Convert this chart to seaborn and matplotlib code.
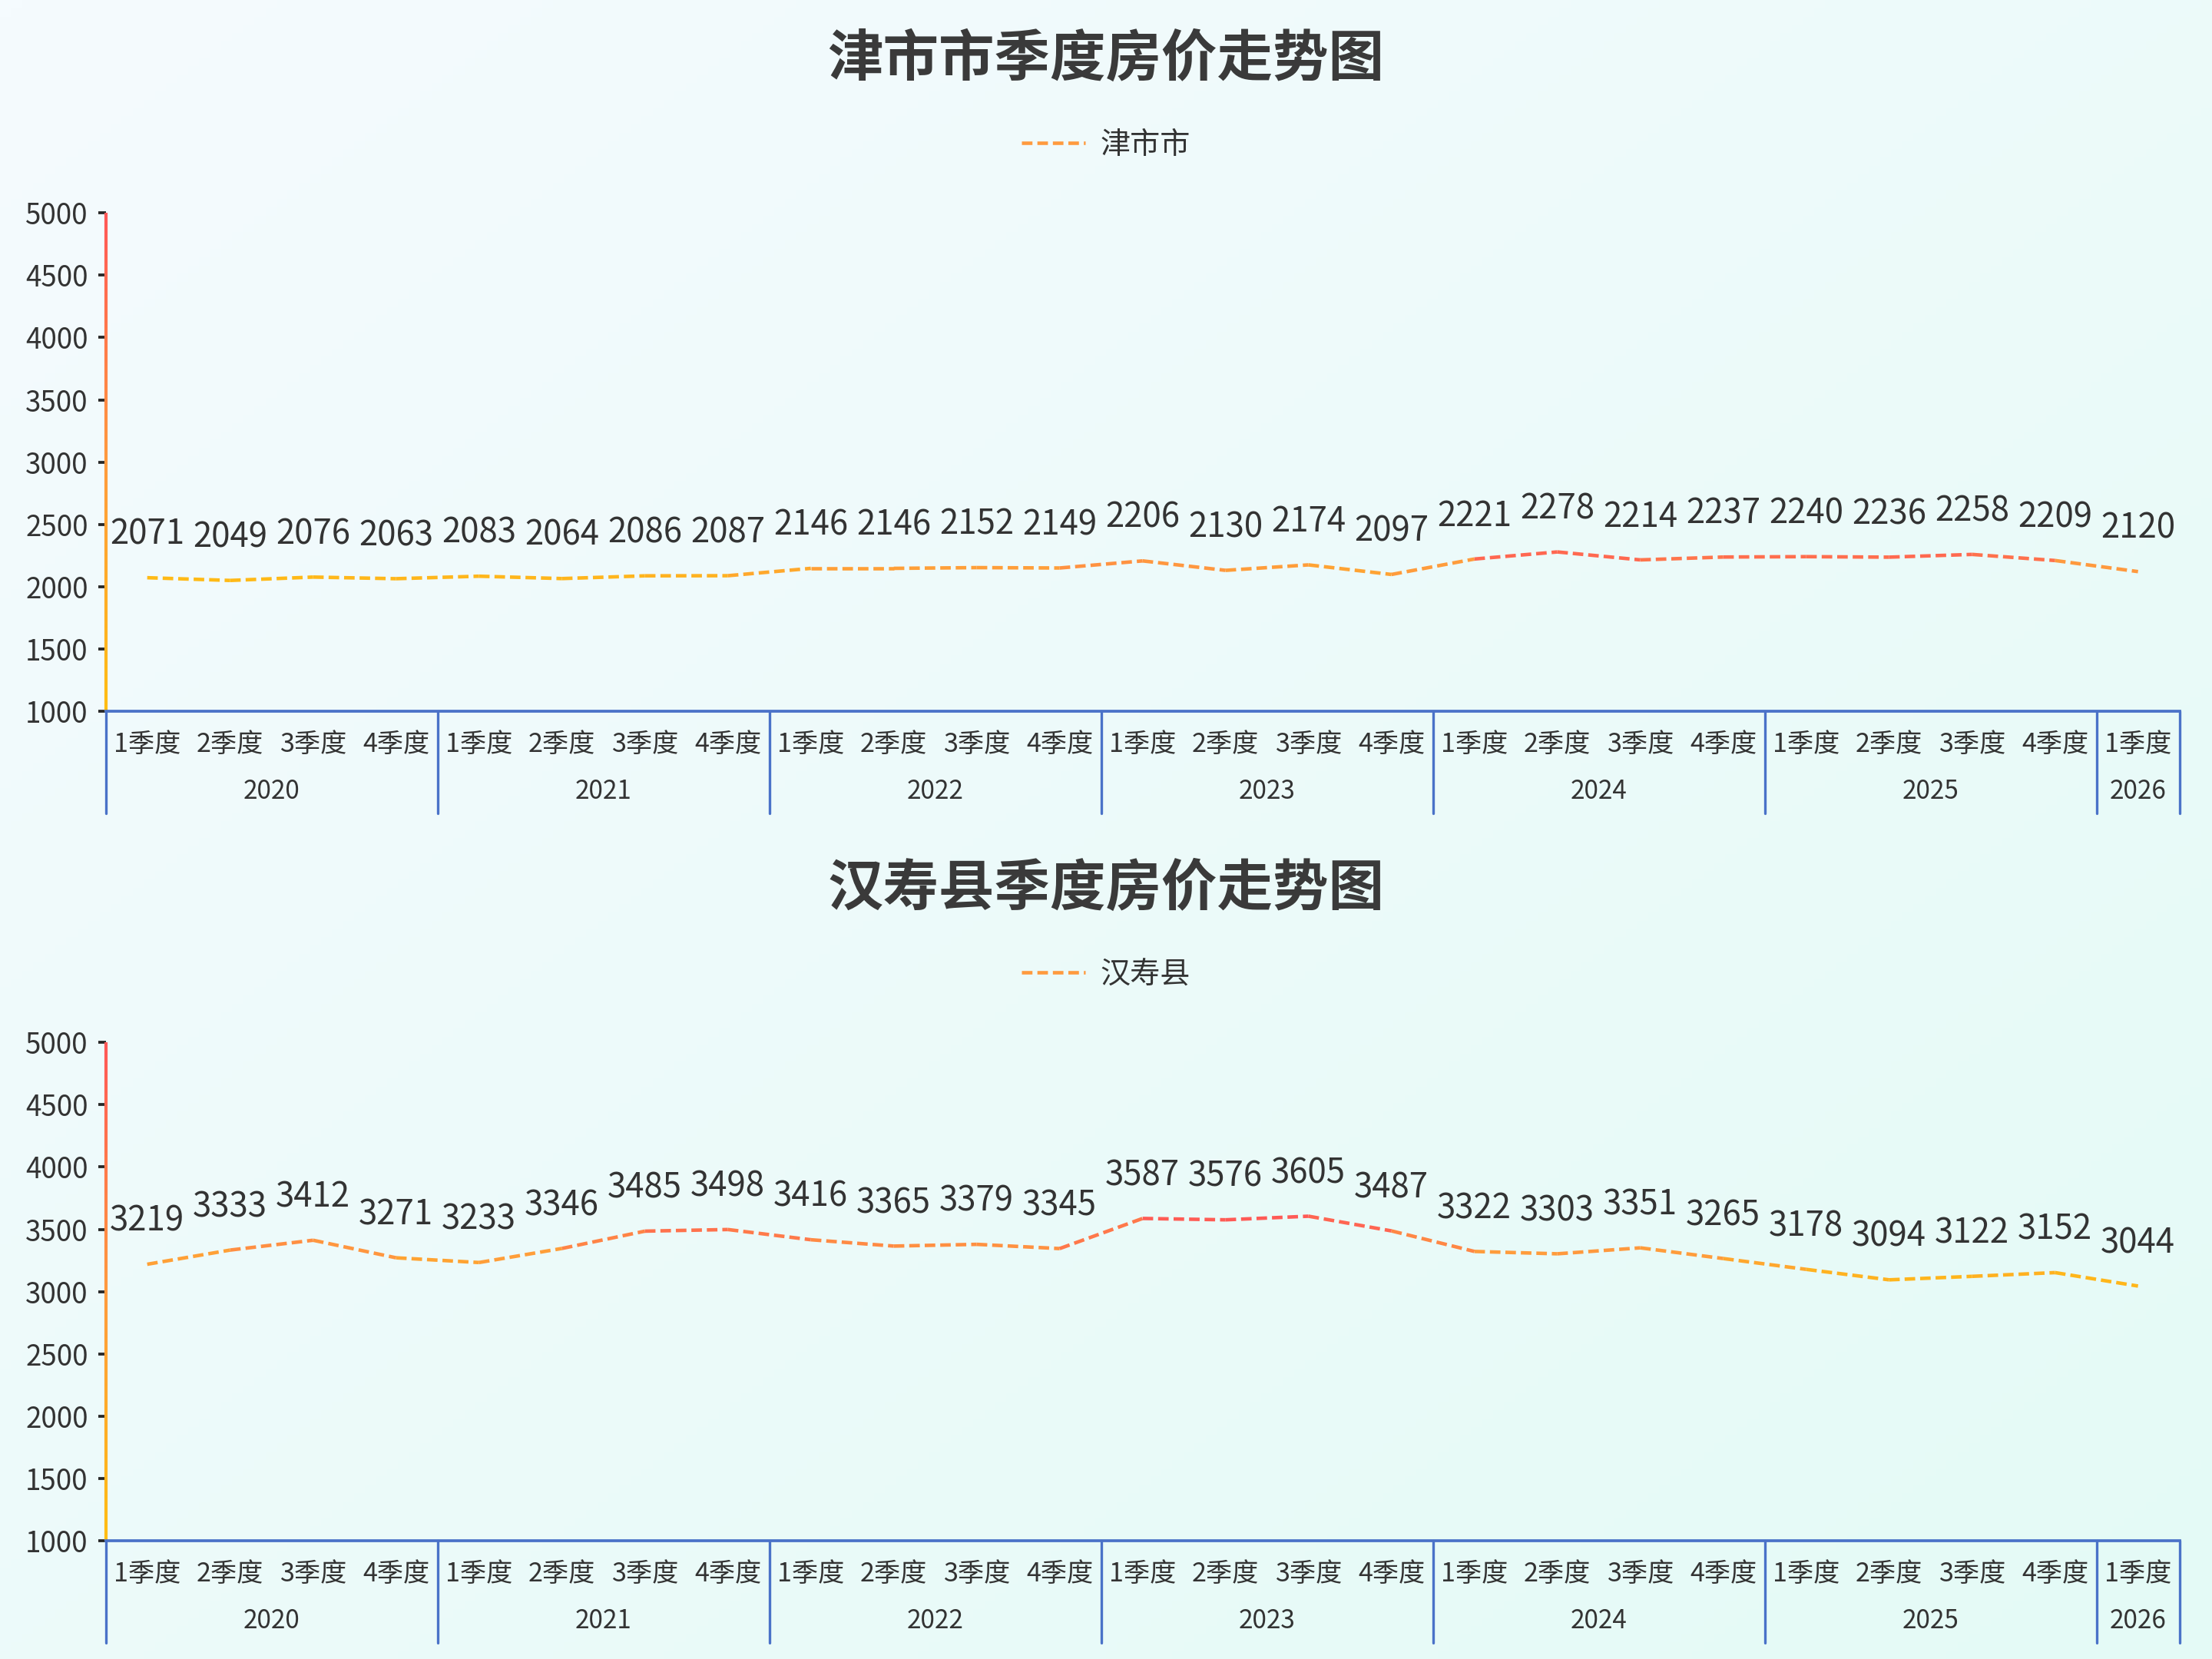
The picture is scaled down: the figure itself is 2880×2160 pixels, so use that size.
import numpy as np
import pandas as pd
import matplotlib
matplotlib.use('Agg')
import matplotlib.pyplot as plt
from matplotlib.colors import LinearSegmentedColormap
from matplotlib.collections import LineCollection
from matplotlib.lines import Line2D
import seaborn as sns

# 数据
years = ['2020', '2021', '2022', '2023', '2024', '2025', '2026']
year_counts = [4, 4, 4, 4, 4, 4, 1]
quarters = ['1季度', '2季度', '3季度', '4季度']
jinshi_name = '津市市'
jinshi_values = [2071, 2049, 2076, 2063, 2083, 2064, 2086, 2087, 2146, 2146, 2152, 2149,
                 2206, 2130, 2174, 2097, 2221, 2278, 2214, 2237, 2240, 2236, 2258, 2209, 2120]
hanshou_name = '汉寿县'
hanshou_values = [3219, 3333, 3412, 3271, 3233, 3346, 3485, 3498, 3416, 3365, 3379, 3345,
                  3587, 3576, 3605, 3487, 3322, 3303, 3351, 3265, 3178, 3094, 3122, 3152, 3044]
y_ticks = [1000, 1500, 2000, 2500, 3000, 3500, 4000, 4500, 5000]

sns.set_theme(style='white')
plt.rcParams['font.family'] = ['Noto Sans CJK SC', 'DejaVu Sans']

grad_cmap = LinearSegmentedColormap.from_list('grad', ['#ffbd12', '#ff9a3e', '#ff5757'])
txt_color = '#333333'
axis_blue = '#4a72c8'

fig = plt.figure(figsize=(9.6, 7.2), dpi=300)

# 背景渐变
bg = fig.add_axes([0, 0, 1, 1], zorder=-10)
gx, gy = np.meshgrid(np.linspace(0, 1, 200), np.linspace(0, 1, 200))
g = (gx + gy) / 2
bg_cmap = LinearSegmentedColormap.from_list('bg', ['#f5fbfe', '#e4faf6'])
bg.imshow(g, cmap=bg_cmap, aspect='auto', extent=[0, 1, 0, 1], origin='upper')
bg.axis('off')

qlabels = []
for n in year_counts:
    qlabels += quarters[:n]


def draw_panel(ax, values, name, title, title_y, legend_y):
    vals = np.array(values)
    x = np.arange(len(vals))
    norm = plt.Normalize(vals.min(), vals.max())
    rows = []
    pal = {}
    for i in range(len(vals) - 1):
        key = 's%02d' % i
        rows.append({'x': x[i], 'v': vals[i], 'seg': key})
        rows.append({'x': x[i + 1], 'v': vals[i + 1], 'seg': key})
        pal[key] = grad_cmap(norm((vals[i] + vals[i + 1]) / 2))
    seg_df = pd.DataFrame(rows)
    sns.lineplot(data=seg_df, x='x', y='v', hue='seg', palette=pal, legend=False,
                 ax=ax, linewidth=1.1, linestyle=(0, (3, 1.4)),
                 estimator=None, sort=False)

    for xi, v in zip(x, vals):
        ax.annotate(str(v), (xi, v), xytext=(0, 8), textcoords='offset points',
                    ha='center', va='bottom', fontsize=10.5, color=txt_color)

    ax.set_xlim(-0.5, len(vals) - 0.5)
    ax.set_ylim(1000, 5000)
    ax.set_facecolor('none')
    ax.set_xlabel('')
    ax.set_ylabel('')
    for s in ['top', 'right', 'left']:
        ax.spines[s].set_visible(False)
    ax.spines['bottom'].set_color(axis_blue)
    ax.spines['bottom'].set_linewidth(0.9)

    # y轴渐变线
    ax_norm = plt.Normalize(1000, 5000)
    ys = np.linspace(1000, 5000, 200)
    pts = np.array([[0, y] for y in ys])
    segs = np.stack([pts[:-1], pts[1:]], axis=1)
    lc = LineCollection(segs, colors=[grad_cmap(ax_norm(y)) for y in ys[:-1]],
                        linewidths=1.0, transform=ax.get_yaxis_transform(), clip_on=False)
    ax.add_collection(lc)

    ax.set_yticks(y_ticks)
    ax.set_yticklabels([str(t) for t in y_ticks])
    ax.tick_params(axis='y', length=2.5, width=0.9, direction='out', pad=3,
                   labelsize=8.8, labelcolor=txt_color, left=True)
    for t, val in zip(ax.yaxis.get_major_ticks(), y_ticks):
        t.tick1line.set_color(grad_cmap(ax_norm(val)))

    ax.set_xticks([])
    tr = ax.get_xaxis_transform()
    for xi, q in zip(x, qlabels):
        ax.text(xi, -0.068, q, transform=tr, ha='center', va='center',
                fontsize=8.2, color=txt_color)
    start = 0
    bounds = [-0.5]
    for yr, n in zip(years, year_counts):
        ax.text(start + (n - 1) / 2, -0.162, yr, transform=tr, ha='center',
                va='center', fontsize=8, color=txt_color)
        start += n
        bounds.append(start - 0.5)
    for b in bounds:
        ax.plot([b, b], [0, -0.205], transform=tr, color=axis_blue, lw=0.8,
                clip_on=False)

    fig.text(0.5, title_y, title, ha='center', va='center', fontsize=17.4,
             fontweight='bold', color='#3a3a3a')
    handle = Line2D([], [], color='#ff9a3e', lw=1.1, linestyle=(0, (3, 1.4)))
    fig.legend([handle], [name], loc='center', bbox_to_anchor=(0.5, legend_y),
               frameon=False, fontsize=9.4, handlelength=2.1, handletextpad=0.5,
               labelcolor=txt_color)


ax1 = fig.add_axes([0.0478, 0.5714, 0.9375, 0.3002])
draw_panel(ax1, jinshi_values, jinshi_name, '津市市季度房价走势图', 1 - 42 / 1176, 1 - 103 / 1176)
ax2 = fig.add_axes([0.0478, 0.0714, 0.9375, 0.3002])
draw_panel(ax2, hanshou_values, hanshou_name, '汉寿县季度房价走势图', 1 - 630 / 1176, 1 - 691 / 1176)

fig.savefig('out.png', dpi=300)
